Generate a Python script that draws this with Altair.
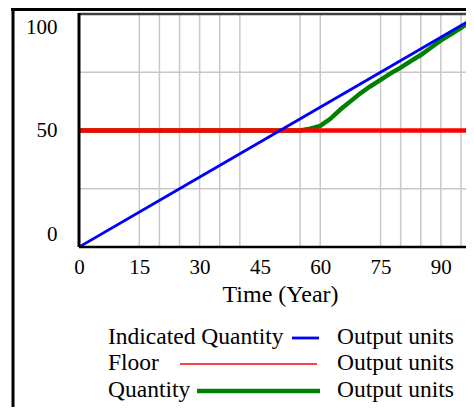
import altair as alt
import pandas as pd

# ---- data ----
ind_t = [0, 25, 50, 75, 100]
ind_q = [0, 25, 50, 75, 100]
floor_t = [0, 100]
floor_q = [50, 50]
qty_t = [0, 55, 57.5, 60, 62.5, 65, 67.5, 70, 72.5, 75, 77.5, 80, 82.5, 85, 87.5, 90, 92.5, 95, 97.5, 100]
qty_q = [50, 50, 50.8, 52, 55, 59, 62.5, 66, 69, 71.7, 74.5, 77, 79.8, 82.4, 85.5, 88.7, 91.3, 94, 97, 100]
grid_x = [15, 20, 25, 30, 35, 40, 55, 60, 75, 80, 85, 90, 95]
grid_y = [25, 75]
x_ticks = [0, 15, 30, 45, 60, 75, 90]
y_ticks = [0, 50, 100]
series_names = ["Indicated Quantity", "Floor", "Quantity"]
series_units = ["Output units", "Output units", "Output units"]
series_colors = ["#0000ff", "#ff0000", "#008000"]

FONT = "Liberation Serif"
W, H = 387, 233
XMAX = 96.25

xs = alt.Scale(domain=[0, XMAX], nice=False, zero=False)
ys = alt.Scale(domain=[0, 100], nice=False)

ind_df = pd.DataFrame({"t": ind_t, "v": ind_q})
floor_df = pd.DataFrame({"t": floor_t, "v": floor_q})
qty_df = pd.DataFrame({"t": qty_t, "v": qty_q})

# axes (labels only)
base_axes = alt.Chart(pd.DataFrame({"t": [0], "v": [0]})).mark_point(opacity=0).encode(
    x=alt.X("t:Q", scale=xs, axis=alt.Axis(values=x_ticks, title="Time (Year)", grid=False,
                                            ticks=False, domain=False, labelFontSize=21,
                                            labelPadding=9, labelFont=FONT, titleFont=FONT,
                                            titleFontSize=24, titleFontWeight="normal",
                                            titlePadding=5, titleX=201, labelColor="black",
                                            titleColor="black", labelFlush=False)),
    y=alt.Y("v:Q", scale=ys, axis=alt.Axis(values=y_ticks, title=None, grid=False, ticks=False,
                                            domain=False, labelFontSize=21, labelFont=FONT,
                                            labelPadding=22, labelColor="black",
                                            labelFlush=True, labelFlushOffset=-2.5)),
)

gx = alt.Chart(pd.DataFrame({"t": grid_x})).mark_rule(color="#c8c8c8", strokeWidth=1.5).encode(
    x=alt.X("t:Q", scale=xs))
gy = alt.Chart(pd.DataFrame({"v": grid_y})).mark_rule(color="#c8c8c8", strokeWidth=1.5).encode(
    y=alt.Y("v:Q", scale=ys))

qty_line = alt.Chart(qty_df).mark_line(color=series_colors[2], strokeWidth=4.5, clip=True).encode(
    x=alt.X("t:Q", scale=xs), y=alt.Y("v:Q", scale=ys))
floor_line = alt.Chart(floor_df).mark_line(color=series_colors[1], strokeWidth=4.5, clip=True).encode(
    x=alt.X("t:Q", scale=xs), y=alt.Y("v:Q", scale=ys))
ind_line = alt.Chart(ind_df).mark_line(color=series_colors[0], strokeWidth=2.8, clip=True).encode(
    x=alt.X("t:Q", scale=xs), y=alt.Y("v:Q", scale=ys))

# frame lines
top_border = alt.Chart(pd.DataFrame({"a": [0]})).mark_rule(color="#404040", strokeWidth=2.5).encode(
    x=alt.value(0), x2=alt.value(W), y=alt.value(0))
left_axis = alt.Chart(pd.DataFrame({"a": [0]})).mark_rule(color="black", strokeWidth=3).encode(
    x=alt.value(0), y=alt.value(-1), y2=alt.value(H))
bottom_axis = alt.Chart(pd.DataFrame({"a": [0]})).mark_rule(color="black", strokeWidth=2.5).encode(
    x=alt.value(0), x2=alt.value(W), y=alt.value(H))
outer_top = alt.Chart(pd.DataFrame({"a": [0]})).mark_rule(color="black", strokeWidth=3).encode(
    x=alt.value(-68), x2=alt.value(W), y=alt.value(-4.5))
outer_left = alt.Chart(pd.DataFrame({"a": [0]})).mark_rule(color="black", strokeWidth=3).encode(
    x=alt.value(-66), y=alt.value(-6), y2=alt.value(H + 160))

# custom legend
leg_y = [323, 349, 376]
leg_line = [(213, 240, 2.8), (101, 238, 1.5), (118, 241, 4.5)]
legend_layers = []
for i in range(3):
    d = pd.DataFrame({"name": [series_names[i]], "unit": [series_units[i]]})
    legend_layers.append(alt.Chart(d).mark_text(font=FONT, fontSize=23.5, align="left", baseline="middle",
                                                 color="black").encode(
        x=alt.value(29), y=alt.value(leg_y[i]), text="name:N"))
    legend_layers.append(alt.Chart(d).mark_text(font=FONT, fontSize=23.5, align="left", baseline="middle",
                                                 color="black").encode(
        x=alt.value(258), y=alt.value(leg_y[i]), text="unit:N"))
    x1, x2, sw = leg_line[i]
    legend_layers.append(alt.Chart(d).mark_rule(color=series_colors[i], strokeWidth=sw).encode(
        x=alt.value(x1), x2=alt.value(x2), y=alt.value(leg_y[i] + 1)))

chart = alt.layer(
    base_axes, gx, gy, qty_line, floor_line, ind_line,
    top_border, bottom_axis, left_axis, outer_top, outer_left, *legend_layers
).properties(
    width=W, height=H,
    autosize=alt.AutoSizeParams(type="none"),
    padding={"left": 71, "top": 6, "right": 0, "bottom": 160},
).configure_view(stroke=None).configure(background="white")

chart.save("out.html", embed_options={"renderer": "svg", "actions": False})
